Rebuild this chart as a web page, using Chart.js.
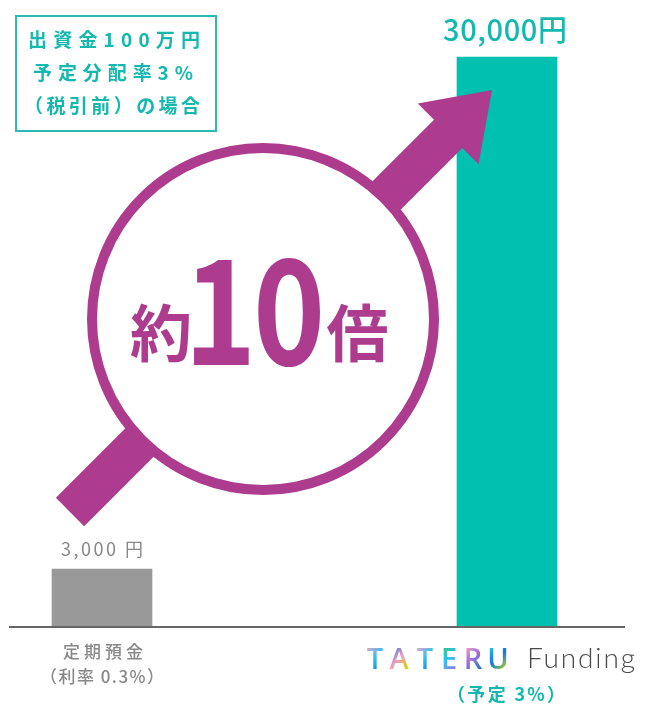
<!DOCTYPE html>
<html>
<head>
<meta charset="utf-8">
<script src="https://cdn.jsdelivr.net/npm/chart.js@4"></script>
<style>
  html, body { margin: 0; padding: 0; background: #fff; }
  canvas { display: block; }
</style>
</head>
<body>
<canvas id="c" width="656" height="717"></canvas>
<script>
// ---- data ----
const categories = ['定期預金', 'TATERU Funding'];
const categorySub = ['（利率 0.3%）', '（予定 3%）'];
const values = [3000, 30000];
const unitLabels = [' 円', '円'];
const barColors = ['#999999', '#00c0b0'];
const noteLines = ['出資金100万円', '予定分配率3%', '（税引前）の場合'];
const ratioText = ['約', '10', '倍'];

const TEAL_TXT = '#14b8ae';
const PURPLE = '#ad3c8f';
const JP = '"Noto Sans CJK JP", "Noto Sans", sans-serif';

function drawFit(ctx, text, cx, cy, width, font, color) {
  ctx.save();
  ctx.font = font;
  ctx.fillStyle = color;
  ctx.textBaseline = 'middle';
  ctx.textAlign = 'left';
  ctx.letterSpacing = '0px';
  const w0 = ctx.measureText(text).width;
  const n = [...text].length;
  const ls = n > 1 ? (width - w0) / (n - 1) : 0;
  ctx.letterSpacing = ls + 'px';
  ctx.fillText(text, cx - width / 2, cy);
  ctx.restore();
}

const overlay = {
  id: 'overlay',
  afterDatasetsDraw(chart) {
    const ctx = chart.ctx;
    const xs = chart.scales.x, ys = chart.scales.y;
    const base = ys.getPixelForValue(0);

    // baseline
    ctx.save();
    ctx.strokeStyle = '#666';
    ctx.lineWidth = 2;
    ctx.beginPath();
    ctx.moveTo(9, base + 1);
    ctx.lineTo(625, base + 1);
    ctx.stroke();
    ctx.restore();

    // arrow
    const S = [70, 512], T = [492, 90];
    const u = [Math.SQRT1_2, -Math.SQRT1_2], nv = [Math.SQRT1_2, Math.SQRT1_2];
    const hw = 20, hh = 43, hl = 62;
    const B = [T[0] - u[0] * hl, T[1] - u[1] * hl];
    const P = (p, k) => [p[0] + nv[0] * k, p[1] + nv[1] * k];
    const pts = [P(S, -hw), P(B, -hw), P(B, -hh), T, P(B, hh), P(B, hw), P(S, hw)];
    ctx.save();
    ctx.fillStyle = PURPLE;
    ctx.beginPath();
    pts.forEach((p, i) => i ? ctx.lineTo(p[0], p[1]) : ctx.moveTo(p[0], p[1]));
    ctx.closePath();
    ctx.fill();
    // circle
    ctx.beginPath();
    ctx.arc(263, 319, 171, 0, Math.PI * 2);
    ctx.fillStyle = '#fff';
    ctx.fill();
    ctx.lineWidth = 10;
    ctx.strokeStyle = PURPLE;
    ctx.stroke();
    ctx.restore();

    // ratio text
    ctx.save();
    ctx.fillStyle = PURPLE;
    ctx.textBaseline = 'alphabetic';
    ctx.textAlign = 'center';
    ctx.font = '700 62px ' + JP;
    ctx.fillText(ratioText[0], 161, 357);
    ctx.fillText(ratioText[2], 357.5, 357);
    ctx.translate(253, 365);
    ctx.scale(0.84, 1);
    ctx.font = '700 146px ' + JP;
    ctx.letterSpacing = '-4px';
    ctx.fillText(ratioText[1], 0, 0);
    ctx.restore();

    // note box
    ctx.save();
    ctx.strokeStyle = '#2bbab2';
    ctx.lineWidth = 2;
    ctx.strokeRect(16, 16, 200, 115);
    ctx.restore();
    drawFit(ctx, noteLines[0], 114, 40, 172, '700 19px ' + JP, TEAL_TXT);
    drawFit(ctx, noteLines[1], 113, 73, 160, '700 19px ' + JP, TEAL_TXT);
    drawFit(ctx, noteLines[2], 112, 106, 176, '700 19px ' + JP, TEAL_TXT);

    // value labels
    const x0 = xs.getPixelForValue(0), x1 = xs.getPixelForValue(1);
    const lbl0 = values[0].toLocaleString('en-US') + unitLabels[0];
    const lbl1 = values[1].toLocaleString('en-US') + unitLabels[1];
    drawFit(ctx, lbl0, x0, ys.getPixelForValue(values[0]) - 20, 82, '400 18px ' + JP, '#888');
    drawFit(ctx, lbl1, x1 - 2, ys.getPixelForValue(values[1]) - 27, 124, '500 29px ' + JP, TEAL_TXT);

    // category labels
    drawFit(ctx, categories[0], x0 + 1, 652, 80, '500 17px ' + JP, '#888');
    drawFit(ctx, categorySub[0], x0, 677, 124, '500 17px ' + JP, '#888');
    drawFit(ctx, categorySub[1], x1 - 1, 694, 118, '700 18px ' + JP, TEAL_TXT);

    // brand logo
    const parts = categories[1].split(' ');
    ctx.save();
    ctx.font = '600 29px "Open Sans", "Noto Sans", sans-serif';
    ctx.textBaseline = 'alphabetic';
    ctx.textAlign = 'center';
    const centers = [375, 399, 425, 449, 473, 498];
    const grads = [
      ['#f6a3c7', '#2ec2f2', '#1576d6'],
      ['#1576d6', '#f49ac0', '#c6dd00'],
      ['#f6a3c7', '#2ec2f2', '#1576d6'],
      ['#33c46a', '#2ec2f2', '#a070d8'],
      ['#f6a3c7', '#a070d8', '#1576d6'],
      ['#2ec2f2', '#1576d6', '#b8de10']
    ];
    const letters = [...parts[0]];
    letters.forEach((ch, i) => {
      const lx = centers[i] - 10;
      const g = ctx.createLinearGradient(lx, 648, lx + 20, 668);
      g.addColorStop(0, grads[i][0]);
      g.addColorStop(0.5, grads[i][1]);
      g.addColorStop(1, grads[i][2]);
      ctx.fillStyle = g;
      ctx.fillText(ch, centers[i], 669);
    });
    ctx.textAlign = 'left';
    ctx.fillStyle = '#4a4a4a';
    ctx.font = '300 28px Lato, "Noto Sans", sans-serif';
    const fw = ctx.measureText(parts[1]).width;
    ctx.letterSpacing = ((108 - fw) / 6) + 'px';
    ctx.fillText(parts[1], 527, 668);
    ctx.restore();
  }
};

new Chart(document.getElementById('c'), {
  type: 'bar',
  data: {
    labels: categories,
    datasets: [{
      data: values,
      backgroundColor: barColors,
      borderWidth: 0,
      barThickness: 100,
      clip: false
    }]
  },
  options: {
    responsive: false,
    animation: false,
    layout: { padding: { left: 102, right: 149, top: 57, bottom: 91 } },
    scales: {
      x: { type: 'category', offset: false, display: false },
      y: { min: 0, max: 30000, display: false }
    },
    plugins: { legend: { display: false }, tooltip: { enabled: false } },
    events: []
  },
  plugins: [overlay]
});
</script>
</body>
</html>
